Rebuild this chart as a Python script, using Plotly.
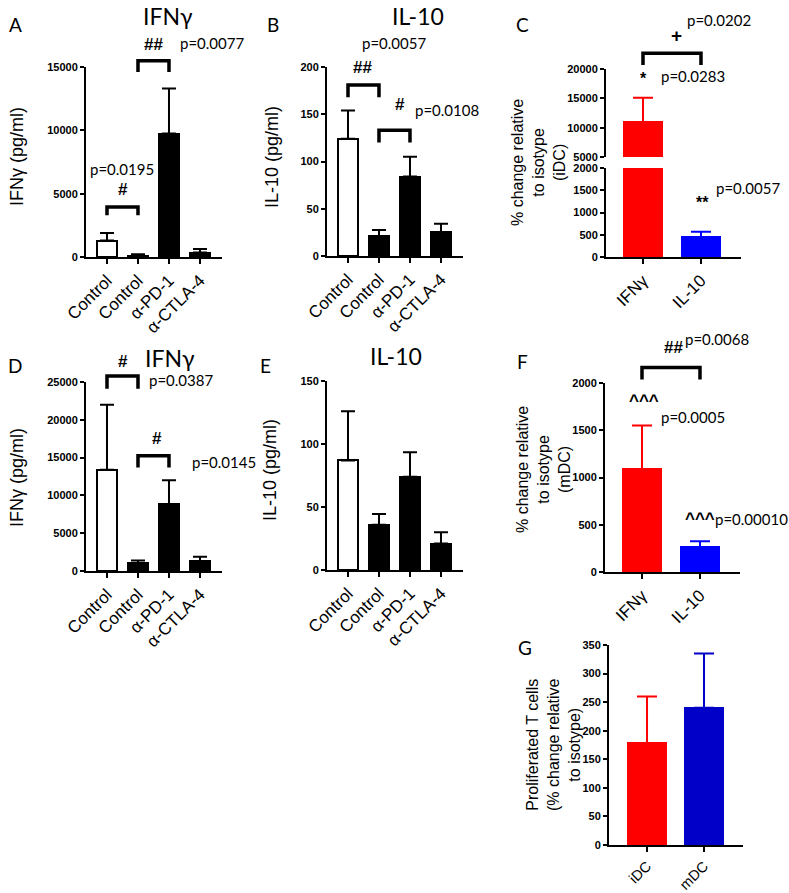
import plotly.graph_objects as go

W, H = 789, 893

# ---------------- data ----------------
cond_labels = ["Control", "Control", "α-PD-1", "α-CTLA-4"]
cond_colors = ["white", "black", "black", "black"]

a_ifng = [1300, 100, 9750, 350]
a_ifng_err = [600, 120, 3550, 280]

b_il10 = [124, 21, 84, 25]
b_il10_err = [30, 6.5, 21, 9]

cyt_labels = ["IFNγ", "IL-10"]
cyt_colors = ["#FF0000", "#0000FF"]
c_change = [10900, 450]
c_change_err = [4200, 120]

d_ifng = [13400, 1000, 8800, 1300]
d_ifng_err = [8600, 400, 3200, 600]

e_il10 = [87, 36, 74, 21]
e_il10_err = [39, 8.5, 19.5, 9]

f_change = [1090, 260]
f_change_err = [460, 65]

dc_labels = ["iDC", "mDC"]
dc_colors = ["#FF0000", "#0000C8"]
g_prolif = [178, 240]
g_prolif_err = [82, 95]

# ---------------- geometry (pixels) ----------------
geo = {
    "A": dict(l=86, r=222, t=67, b=257, xr=(-0.677, 3.71), yr=(0, 15000)),
    "B": dict(l=327, r=463, t=67, b=256, xr=(-0.677, 3.71), yr=(0, 200)),
    "Ct": dict(l=606, r=741, t=69, b=157, xr=(-0.638, 1.69), yr=(5000, 20000)),
    "Cb": dict(l=606, r=741, t=168, b=257, xr=(-0.638, 1.69), yr=(0, 2000)),
    "D": dict(l=86, r=222, t=382, b=571, xr=(-0.677, 3.71), yr=(0, 25000)),
    "E": dict(l=327, r=463, t=381, b=570, xr=(-0.677, 3.71), yr=(0, 150)),
    "F": dict(l=605, r=740, t=383, b=572, xr=(-0.638, 1.69), yr=(0, 2000)),
    "G": dict(l=609, r=743, t=645, b=845, xr=(-0.667, 1.684), yr=(0, 350)),
}

ARIAL = "Liberation Sans"
CAL = "Lato"

fig = go.Figure()
layout = dict(template="none", width=W, height=H, margin=dict(l=0, r=0, t=0, b=0, pad=0),
              autosize=False, paper_bgcolor="white", plot_bgcolor="white",
              showlegend=False, bargap=0)
annotations = []
shapes = []


def to_px(g, xv, yv):
    px = g["l"] + (xv - g["xr"][0]) / (g["xr"][1] - g["xr"][0]) * (g["r"] - g["l"])
    py = g["b"] - (yv - g["yr"][0]) / (g["yr"][1] - g["yr"][0]) * (g["b"] - g["t"])
    return px, py


def add_panel(idx, g, cats, vals, errs, colors, linecolors, tickvals, barw, capw,
              xfont, showx=True):
    xid = "x" if idx == 1 else f"x{idx}"
    yid = "y" if idx == 1 else f"y{idx}"
    xs = list(range(len(vals)))
    for i in xs:
        fig.add_trace(go.Bar(
            x=[i], y=[vals[i]], width=barw, xaxis=xid, yaxis=yid,
            marker=dict(color=colors[i], line=dict(color=linecolors[i], width=2)),
            error_y=dict(type="data", array=[errs[i]], arrayminus=[0], symmetric=False,
                         color=linecolors[i], thickness=2, width=capw),
            hoverinfo="skip"))
    xname = "xaxis" if idx == 1 else f"xaxis{idx}"
    yname = "yaxis" if idx == 1 else f"yaxis{idx}"
    layout[xname] = dict(domain=[g["l"] / W, g["r"] / W], range=list(g["xr"]), anchor=yid,
                         automargin=False, visible=showx,
                         showline=True, linewidth=2, linecolor="black",
                         ticks="outside", ticklen=5, tickwidth=2, tickcolor="black",
                         tickvals=xs, ticktext=cats, tickangle=-45,
                         tickfont=dict(family=ARIAL, size=xfont, color="black"),
                         showgrid=False, zeroline=False, fixedrange=True)
    layout[yname] = dict(domain=[1 - g["b"] / H, 1 - g["t"] / H], range=list(g["yr"]), anchor=xid,
                         automargin=False,
                         showline=True, linewidth=2, linecolor="black",
                         ticks="outside", ticklen=4, tickwidth=2, tickcolor="black",
                         tickvals=tickvals, tickformat="d",
                         tickfont=dict(family=ARIAL, size=11, color="black", weight=700),
                         showgrid=False, zeroline=False, fixedrange=True)


def txt(x, y, s, size=15, bold=False, family=CAL, angle=0, xanchor="center"):
    annotations.append(dict(x=x / W, y=1 - y / H, xref="paper", yref="paper", text=s,
                            showarrow=False, textangle=angle, xanchor=xanchor, yanchor="middle",
                            font=dict(size=size, family=family, color="black",
                                      weight=700 if bold else 400)))


def bracket(g, i0, i1, ytop, yleg, lw=3.5):
    x0, yl = to_px(g, i0, yleg)
    x1, yt = to_px(g, i1, ytop)
    p = (f"M {x0/W:.5f},{1-yl/H:.5f} L {x0/W:.5f},{1-yt/H:.5f} "
         f"L {x1/W:.5f},{1-yt/H:.5f} L {x1/W:.5f},{1-yl/H:.5f}")
    shapes.append(dict(type="path", path=p, xref="paper", yref="paper",
                       line=dict(color="black", width=lw)))


cond_lines = ["black"] * 4

add_panel(1, geo["A"], cond_labels, a_ifng, a_ifng_err, cond_colors, cond_lines,
          [0, 5000, 10000, 15000], 0.65, 7, 17)
add_panel(2, geo["B"], cond_labels, b_il10, b_il10_err, cond_colors, cond_lines,
          [0, 50, 100, 150, 200], 0.65, 7, 17)
add_panel(3, geo["Ct"], cyt_labels, c_change, c_change_err, cyt_colors, cyt_colors,
          [5000, 10000, 15000, 20000], 0.67, 10, 17, showx=False)
add_panel(4, geo["Cb"], cyt_labels, c_change, c_change_err, cyt_colors, cyt_colors,
          [0, 500, 1000, 1500, 2000], 0.67, 10, 17)
add_panel(5, geo["D"], cond_labels, d_ifng, d_ifng_err, cond_colors, cond_lines,
          [0, 5000, 10000, 15000, 20000, 25000], 0.65, 7, 17)
add_panel(6, geo["E"], cond_labels, e_il10, e_il10_err, cond_colors, cond_lines,
          [0, 50, 100, 150], 0.65, 7, 17)
add_panel(7, geo["F"], cyt_labels, f_change, f_change_err, cyt_colors, cyt_colors,
          [0, 500, 1000, 1500, 2000], 0.67, 10, 17)
add_panel(8, geo["G"], dc_labels, g_prolif, g_prolif_err, dc_colors, dc_colors,
          [0, 50, 100, 150, 200, 250, 300, 350], 0.67, 10, 14.5)

# ---------------- annotations ----------------
# A
txt(15, 25, "A", 19)
txt(168, 16, "IFNγ", 23)
txt(153, 45, "##", 17, bold=True, family=ARIAL)
txt(212, 43, "p=0.0077", 15)
txt(122, 169, "p=0.0195", 15)
txt(123, 190, "#", 17, bold=True, family=ARIAL)
txt(17, 157, "IFNγ (pg/ml)", 18, family=ARIAL, angle=-90)
bracket(geo["A"], 0, 1, 3950, 3300)
bracket(geo["A"], 1, 2, 15500, 14600)
# B
txt(273, 25, "B", 19)
txt(418, 16, "IL-10", 23)
txt(394, 43, "p=0.0057", 15)
txt(362, 68, "##", 17, bold=True, family=ARIAL)
txt(400, 104, "#", 17, bold=True, family=ARIAL)
txt(447, 110, "p=0.0108", 15)
txt(272, 157, "IL-10 (pg/ml)", 18, family=ARIAL, angle=-90)
bracket(geo["B"], 0, 1, 181, 168)
bracket(geo["B"], 1, 2, 133, 120)
# C
txt(522, 25, "C", 19)
txt(719, 20, "p=0.0202", 15)
txt(676, 35, "+", 19, bold=True, family=ARIAL)
txt(643, 78, "*", 16, bold=True, family=ARIAL)
txt(693, 76, "p=0.0283", 15)
txt(702, 202, "**", 16, bold=True, family=ARIAL)
txt(748, 188, "p=0.0057", 15)
txt(538, 163, "% change relative<br>to isotype<br>(iDC)", 16, family=ARIAL, angle=-90)
bracket(geo["Ct"], 0, 1, 22700, 20700)
# D
txt(15, 365, "D", 19)
txt(170, 358, "IFNγ", 23)
txt(123, 362, "#", 17, bold=True, family=ARIAL)
txt(181, 380, "p=0.0387", 15)
txt(157, 438, "#", 17, bold=True, family=ARIAL)
txt(224, 462, "p=0.0145", 15)
txt(17, 478, "IFNγ (pg/ml)", 18, family=ARIAL, angle=-90)
bracket(geo["D"], 0, 1, 25800, 24100)
bracket(geo["D"], 1, 2, 15260, 13700)
# E
txt(265, 365, "E", 19)
txt(396, 356, "IL-10", 23)
txt(270, 470, "IL-10 (pg/ml)", 18, family=ARIAL, angle=-90)
# F
txt(522, 362, "F", 19)
txt(673, 348, "##", 17, bold=True, family=ARIAL)
txt(717, 339, "p=0.0068", 15)
txt(644, 401, "^^^", 17, bold=True, family=ARIAL)
txt(693, 417, "p=0.0005", 15)
txt(700, 518, "^^^", 17, bold=True, family=ARIAL)
txt(751, 519, "p=0.00010", 15)
txt(543, 470, "% change relative<br>to isotype<br>(mDC)", 16, family=ARIAL, angle=-90)
bracket(geo["F"], 0, 1, 2165, 2038)
# G
txt(525, 647, "G", 19)
txt(553, 745, "Proliferated T cells<br>(% change relative<br>to isotype)", 16, family=ARIAL, angle=-90)

layout["annotations"] = annotations
layout["shapes"] = shapes
fig.update_layout(**layout)
fig.write_html("out.html", config={"displayModeBar": False},
               post_script="document.body.style.margin='0';document.body.style.overflow='hidden';")
